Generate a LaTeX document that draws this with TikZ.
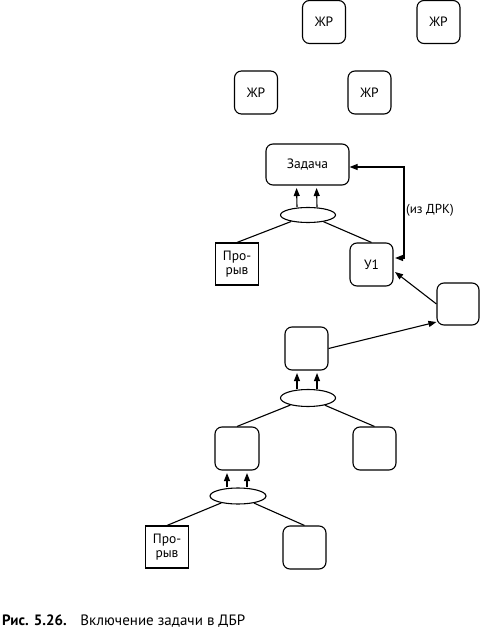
\documentclass[tikz,border=0pt]{standalone}
\usepackage{fontspec}
\setmainfont{PT Sans}
\usetikzlibrary{arrows.meta,calc,shapes.geometric}
\begin{document}
\begin{tikzpicture}[x=1pt,y=-1pt,
  rbox/.style={draw,rounded corners=7pt,minimum width=43pt,minimum height=43pt,inner sep=0pt,line width=1.1pt,font=\fontsize{13.5}{14}\selectfont},
  sbox/.style={draw,minimum width=43pt,minimum height=42pt,inner sep=0pt,line width=1.1pt,align=center,font=\fontsize{13.5}{14.5}\selectfont},
  oval/.style={draw,ellipse,minimum width=55pt,minimum height=16pt,inner sep=0pt,line width=1.1pt},
  link/.style={line width=1.1pt},
  tip/.tip={Triangle[length=8pt,width=6pt]},
  arr/.style={line width=1.1pt,-tip},
  uparr/.style={arr,shorten >=2.5pt},
]
\useasboundingbox (0,0) rectangle (480,628);
% ZhR boxes
\node[rbox] (zr1) at (324,22) {ЖР};
\node[rbox] (zr2) at (438.5,22) {ЖР};
\node[rbox] (zr3) at (256,92.5) {ЖР};
\node[rbox] (zr4) at (369.5,92.5) {ЖР};
% task
\node[rbox,minimum width=83pt,minimum height=41pt] (zad) at (307.5,164.5) {Задача};
\node[oval,minimum height=15pt] (e1) at (308,215) {};
\node[sbox] (pr1) at (237,264) {Про-\\рыв};
\node[rbox] (u1) at (371.5,264.5) {У1};
\node[rbox,minimum width=42pt,minimum height=42pt] (r) at (458,304) {};
\node[rbox] (m) at (306.5,348.5) {};
\node[oval,minimum height=17pt] (e2) at (308,398) {};
\node[rbox,minimum width=44pt] (ll) at (237,448.5) {};
\node[rbox] (lr) at (374.5,448.5) {};
\node[oval,minimum width=56pt] (e3) at (238,496) {};
\node[sbox] (pr2) at (167,547) {Про-\\рыв};
\node[rbox] (br) at (304.5,547.5) {};
% and-links
\draw[link] (pr1.north) -- (e1);
\draw[link] (u1.north) -- (e1);
\draw[link] (ll.north) -- (e2);
\draw[link] (lr.north) -- (e2);
\draw[link] (pr2.north) -- (e3);
\draw[link] (br.north) -- (e3);
% up arrows
\draw[uparr] ($(e1.north)+(-11,0)$) -- ($(zad.south)+(-11,0)$);
\draw[uparr] ($(e1.north)+(9,0)$) -- ($(zad.south)+(9,0)$);
\draw[uparr] ($(e2.north)+(-11,0)$) -- ($(m.south)+(-9.5,0)$);
\draw[uparr] ($(e2.north)+(9,0)$) -- ($(m.south)+(10.5,0)$);
\draw[uparr] ($(e3.north)+(-11,0)$) -- ($(ll.south)+(-10,0)$);
\draw[uparr] ($(e3.north)+(9,0)$) -- ($(ll.south)+(10,0)$);
% feedback
\coordinate (fba) at (404,167);
\coordinate (fbb) at (404,258);
\draw[link,tip-tip] (zad.east |- fba) -- (fba) -- (fbb) -- ($(u1.east |- fbb)+(1.5,0)$);
\node[anchor=west,inner sep=0pt,font=\fontsize{13}{14}\selectfont] (lbl) at (406,210) {(из ДРК)};
% cross links
\draw[arr] (r.west) -- ($(u1.east)+(1.5,7.5)$);
\draw[arr] (m.east) -- ($(r.west)+(0,18)$);
% caption
\node[anchor=base west,inner sep=0pt,font=\fontsize{15}{16}\selectfont] (cap) at (2,625) {\textbf{Рис. 5.26.}\hspace{0.9em}Включение задачи в ДБР};
\end{tikzpicture}
\end{document}
